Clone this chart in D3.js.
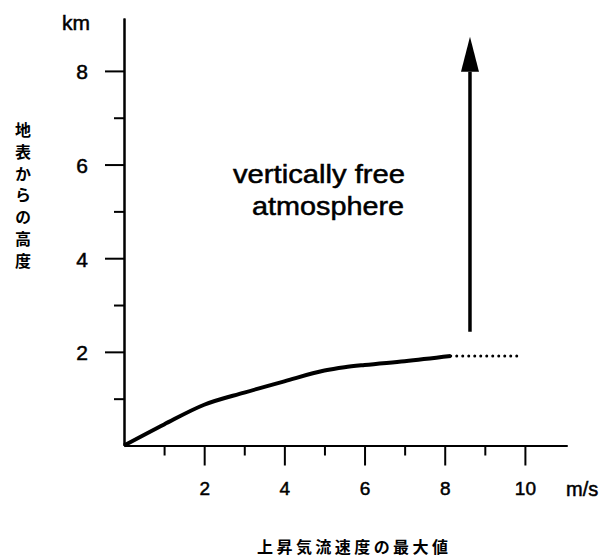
<!DOCTYPE html>
<html lang="ja">
<head>
<meta charset="utf-8">
<title>上昇気流速度の最大値</title>
<script src="https://cdn.jsdelivr.net/npm/d3@7"></script>
<style>
  body { margin: 0; background: #fff; }
  .axis path, .axis line { stroke: #000; stroke-width: 2; }
  .axis text, .lbl { font-family: "Liberation Sans", Arial, sans-serif; fill: #000; stroke: #000; stroke-width: 0.5; }
  .jp { font-family: "Noto Sans CJK JP", sans-serif; font-weight: 700; }
</style>
</head>
<body>
<script>
// updraft speed (m/s) vs height above ground (km)
var speed  = [0, 1, 2, 3, 4, 5, 5.5, 6, 7, 8.15];
var height = [0, 0.45, 0.87, 1.13, 1.37, 1.6, 1.67, 1.72, 1.8, 1.91];
// dotted continuation
var dotSpeed  = [8.15, 9.8];
var dotHeight = [1.91, 1.91];
// arrow (speed, height from, height to)
var arrowX = 8.63;
var arrowY = [2.43, 8.73];

var xMajor = [2, 4, 6, 8, 10];
var xMinor = [1, 3, 5, 7, 9];
var yMajor = [2, 4, 6, 8];
var yMinor = [1, 3, 5, 7];

var w = 605, h = 559;

var svg = d3.select("body").append("svg")
    .attr("width", w)
    .attr("height", h);

var x = d3.scaleLinear().domain([0, 11.05]).range([124, 567]);
var y = d3.scaleLinear().domain([0, 9.13]).range([445.5, 18]);

// minor ticks first
svg.append("g").attr("class", "axis")
    .attr("transform", "translate(0," + y(0) + ")")
    .call(d3.axisBottom(x).tickValues(xMinor).tickSizeInner(10).tickSizeOuter(0).tickFormat(""));
svg.append("g").attr("class", "axis")
    .attr("transform", "translate(" + x(0) + ",0)")
    .call(d3.axisLeft(y).tickValues(yMinor).tickSizeInner(10).tickSizeOuter(0).tickFormat(""));

// major ticks with labels
var xg = svg.append("g").attr("class", "axis")
    .attr("transform", "translate(0," + y(0) + ")")
    .call(d3.axisBottom(x).tickValues(xMajor).tickSizeInner(20).tickSizeOuter(0).tickPadding(16));
xg.selectAll("text").attr("font-size", "19px");

var yg = svg.append("g").attr("class", "axis")
    .attr("transform", "translate(" + x(0) + ",0)")
    .call(d3.axisLeft(y).tickValues(yMajor).tickSizeInner(19).tickSizeOuter(0).tickPadding(17));
yg.selectAll("text").attr("font-size", "21px").attr("dy", "0.38em");

// unit labels
svg.append("text").attr("class", "lbl").attr("x", 62).attr("y", 30)
    .attr("font-size", "21px")
    .text("km");
svg.append("text").attr("class", "lbl").attr("x", 566).attr("y", 496)
    .attr("font-size", "20px")
    .text("m/s");

// curve
var pts = speed.map(function(d, i) { return [d, height[i]]; });
var line = d3.line()
    .x(function(d) { return x(d[0]); })
    .y(function(d) { return y(d[1]); })
    .curve(d3.curveMonotoneX);

svg.append("path")
    .datum(pts)
    .attr("d", line)
    .attr("fill", "none")
    .attr("stroke", "#000")
    .attr("stroke-width", 4)
    .attr("stroke-linejoin", "round");

svg.append("path")
    .datum(dotSpeed.map(function(d, i) { return [d, dotHeight[i]]; }))
    .attr("d", line)
    .attr("fill", "none")
    .attr("stroke", "#000")
    .attr("stroke-width", 3)
    .attr("stroke-linecap", "round")
    .attr("stroke-dasharray", "0,6");

// arrow
var ax = x(arrowX), headBase = y(arrowY[1]) + 35;
svg.append("line")
    .attr("x1", ax).attr("x2", ax)
    .attr("y1", y(arrowY[0])).attr("y2", headBase)
    .attr("stroke", "#000").attr("stroke-width", 3.5);
svg.append("path")
    .attr("d", "M" + ax + "," + y(arrowY[1]) + "L" + (ax - 9) + "," + headBase + "L" + (ax + 9) + "," + headBase + "Z")
    .attr("fill", "#000");

// annotation
svg.append("text").attr("class", "lbl").attr("x", 233).attr("y", 183)
    .attr("font-size", "25px")
    .attr("textLength", 172).attr("lengthAdjust", "spacingAndGlyphs")
    .text("vertically free");
svg.append("text").attr("class", "lbl").attr("x", 252).attr("y", 215)
    .attr("font-size", "25px")
    .attr("textLength", 152).attr("lengthAdjust", "spacingAndGlyphs")
    .text("atmosphere");

// y title (vertical writing)
svg.append("text").attr("class", "jp")
    .attr("x", 23).attr("y", 122)
    .attr("font-size", "16px")
    .attr("writing-mode", "vertical-rl")
    .attr("letter-spacing", "5.8px")
    .text("地表からの高度");

// x title
svg.append("text").attr("class", "jp")
    .attr("x", 257).attr("y", 553)
    .attr("font-size", "16px")
    .attr("textLength", 191).attr("lengthAdjust", "spacing")
    .text("上昇気流速度の最大値");
</script>
</body>
</html>
